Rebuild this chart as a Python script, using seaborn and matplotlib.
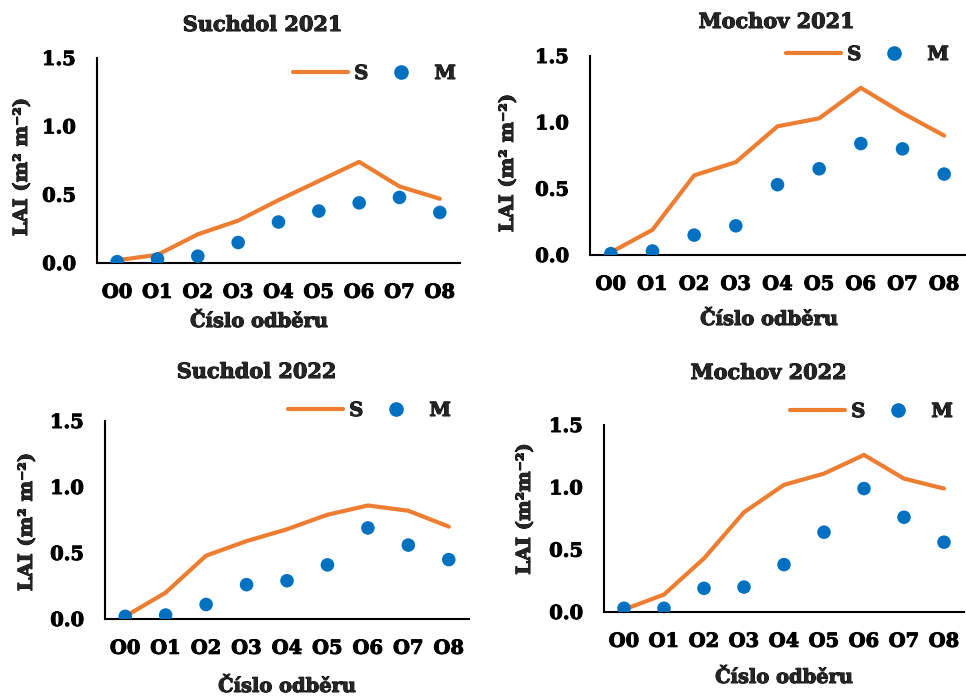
import matplotlib
matplotlib.use("Agg")
import matplotlib.pyplot as plt
import matplotlib.patheffects as pe
import seaborn as sns
import pandas as pd
from matplotlib.lines import Line2D

sns.set_style("white")
plt.rcParams['font.family'] = ['DejaVu Serif']
plt.rcParams['font.weight'] = 'bold'

categories = ["O0", "O1", "O2", "O3", "O4", "O5", "O6", "O7", "O8"]
titles = ["Suchdol 2021", "Mochov 2021", "Suchdol 2022", "Mochov 2022"]

suchdol21_S = [0.02, 0.06, 0.21, 0.31, 0.46, 0.60, 0.74, 0.56, 0.47]
suchdol21_M = [0.01, 0.03, 0.05, 0.15, 0.30, 0.38, 0.44, 0.48, 0.37]
mochov21_S = [0.02, 0.19, 0.60, 0.70, 0.97, 1.03, 1.26, 1.07, 0.90]
mochov21_M = [0.01, 0.03, 0.15, 0.22, 0.53, 0.65, 0.84, 0.80, 0.61]
suchdol22_S = [0.02, 0.20, 0.48, 0.59, 0.68, 0.79, 0.86, 0.82, 0.70]
suchdol22_M = [0.02, 0.03, 0.11, 0.26, 0.29, 0.41, 0.69, 0.56, 0.45]
mochov22_S = [0.02, 0.14, 0.43, 0.80, 1.02, 1.11, 1.26, 1.07, 0.99]
mochov22_M = [0.03, 0.03, 0.19, 0.20, 0.38, 0.64, 0.99, 0.76, 0.56]

series_S = [suchdol21_S, mochov21_S, suchdol22_S, mochov22_S]
series_M = [suchdol21_M, mochov21_M, suchdol22_M, mochov22_M]
ylabels = ["LAI (m² m⁻²)", "LAI (m² m⁻²)", "LAI (m² m⁻²)", "LAI (m²m⁻²)"]
yticks = [0.0, 0.5, 1.0, 1.5]

ORANGE = "#ED7D31"
BLUE = "#0070C0"
W, H = 966, 696
THICK = [pe.withStroke(linewidth=0.7, foreground="black")]

fig = plt.figure(figsize=(W / 100, H / 100), dpi=100)

# pixel boxes: left, right, top, bottom
boxes = [(97, 460, 58, 263), (590, 965, 56, 255), (105, 469, 421, 619), (604, 964, 425, 612)]
title_pos = [(263, 25), (777, 22), (257, 372), (769, 373)]
ylabel_pos = [(22, 167), (508, 163), (27, 522), (525, 509)]
xlabel_pos = [(259, 322), (769, 320), (287, 687), (784, 678)]
legend_y = [74, 55, 411, 412]
legend_x = [293, 786, 288, 790]

for i in range(4):
    l, r, t, b = boxes[i]
    ax = fig.add_axes([l / W, 1 - b / H, (r - l) / W, (b - t) / H])
    df = pd.DataFrame({"cat": categories, "S": series_S[i], "M": series_M[i]})
    df["x"] = range(len(categories))
    sns.lineplot(data=df, x="x", y="S", ax=ax, color=ORANGE, linewidth=3.0, zorder=2,
                 solid_capstyle="round", solid_joinstyle="round")
    sns.scatterplot(data=df, x="x", y="M", ax=ax, color=BLUE, s=95, edgecolor="none", zorder=3)
    ax.set_xlim(-0.5, len(categories) - 0.5)
    ax.set_ylim(0, 1.5)
    ax.set_xticks(range(len(categories)))
    ax.set_xticklabels(categories)
    ax.set_yticks(yticks)
    ax.set_yticklabels([f"{v:.1f}" for v in yticks])
    ax.set_xlabel("")
    ax.set_ylabel("")
    for s in ["top", "right"]:
        ax.spines[s].set_visible(False)
    for s in ["left", "bottom"]:
        ax.spines[s].set_linewidth(1.5)
        ax.spines[s].set_color("black")
    ax.tick_params(axis="x", direction="out", length=4, width=1.5, pad=11, labelsize=14, colors="black")
    ax.tick_params(axis="y", direction="out", length=5, width=1.5, pad=10, labelsize=14, colors="black")
    for lab in ax.get_xticklabels() + ax.get_yticklabels():
        lab.set_fontweight("bold")
        lab.set_path_effects(THICK)
    ax.patch.set_alpha(0)

    tx, ty = title_pos[i]
    fig.text(tx / W, 1 - ty / H, titles[i], ha="center", va="center", fontsize=15,
             fontweight="bold", path_effects=THICK)
    yx, yy = ylabel_pos[i]
    fig.text(yx / W, 1 - yy / H, ylabels[i], ha="center", va="center", rotation=90, fontsize=14,
             fontweight="bold", path_effects=THICK)
    xx, xy = xlabel_pos[i]
    fig.text(xx / W, 1 - xy / H, "Číslo odběru", ha="center", va="center", fontsize=14,
             fontweight="bold", path_effects=THICK)

    handles = [Line2D([0], [0], color=ORANGE, lw=3.0, solid_capstyle="round"),
               Line2D([0], [0], color=BLUE, marker="o", ls="none", markersize=9.5)]
    leg = fig.legend(handles, ["S", "M"], loc="center left",
                     bbox_to_anchor=(legend_x[i] / W, 1 - legend_y[i] / H),
                     ncol=2, frameon=False, handlelength=2.85, handletextpad=0.3,
                     columnspacing=0.25, prop={"size": 14, "weight": "bold"},
                     borderpad=0, borderaxespad=0)
    for txt in leg.get_texts():
        txt.set_path_effects(THICK)

fig.savefig("out.png", dpi=100)
